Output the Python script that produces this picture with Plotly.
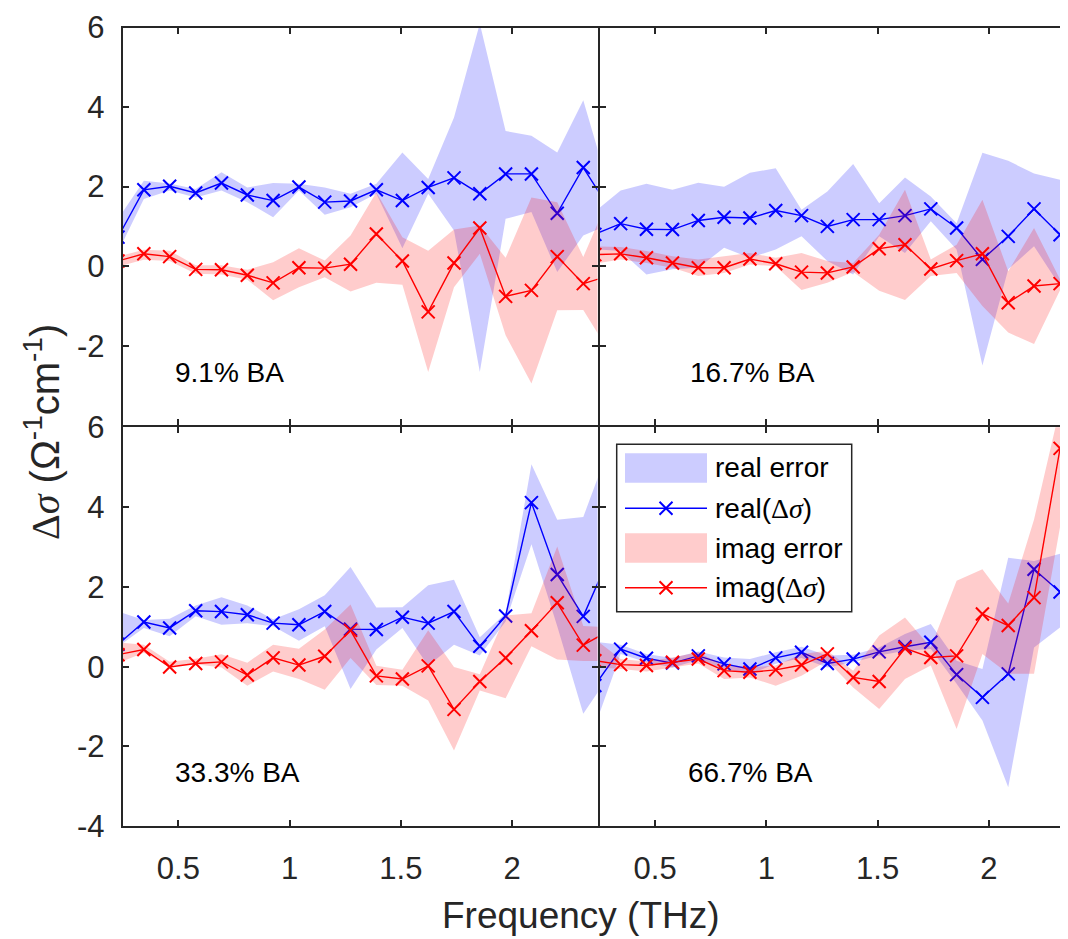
import plotly.graph_objects as go

# ---------------- data ----------------
freq = [0.229, 0.345, 0.461, 0.578, 0.694, 0.810, 0.926, 1.042, 1.158, 1.274,
        1.390, 1.507, 1.623, 1.739, 1.855, 1.971, 2.087, 2.203, 2.320, 2.436]

panel_labels = ["9.1% BA", "16.7% BA", "33.3% BA", "66.7% BA"]

real1 = [0.73, 1.92, 2.01, 1.84, 2.09, 1.79, 1.65, 1.99, 1.61, 1.64, 1.92, 1.65, 1.98, 2.22, 1.82, 2.32, 2.32, 1.33, 2.48, 1.46]
real1_hi = [1.19, 2.15, 2.08, 1.94, 2.36, 1.98, 2.09, 2.07, 1.98, 1.82, 2.07, 2.86, 2.19, 3.74, 6.10, 3.40, 3.28, 2.86, 4.17, 1.96]
real1_lo = [0.36, 1.69, 1.90, 1.73, 1.90, 1.61, 1.23, 1.90, 1.29, 1.48, 1.82, 0.45, 1.82, 0.90, -2.66, 1.19, 1.36, -0.15, 0.77, 1.05]
imag1 = [0.13, 0.31, 0.24, -0.08, -0.09, -0.23, -0.42, -0.04, -0.05, 0.05, 0.81, 0.13, -1.15, 0.08, 0.96, -0.76, -0.61, 0.24, -0.44, -0.24]
imag1_hi = [0.24, 0.41, 0.39, 0.02, 0.02, -0.09, 0.10, 0.45, 0.14, 0.77, 1.86, 0.73, 0.39, 0.92, 1.02, 0.21, 1.73, 1.61, 0.23, 1.74]
imag1_lo = [-0.01, 0.16, 0.13, -0.19, -0.21, -0.34, -0.86, -0.53, -0.28, -0.64, -0.42, -0.47, -2.66, -0.53, 0.31, -1.74, -2.95, -1.11, -1.10, -2.15]

real2 = [0.80, 1.07, 0.93, 0.92, 1.15, 1.23, 1.21, 1.40, 1.27, 1.00, 1.17, 1.17, 1.27, 1.44, 0.96, 0.17, 0.75, 1.44, 0.79, 3.28]
real2_hi = [1.37, 1.90, 2.07, 1.92, 2.10, 2.00, 2.35, 2.46, 1.42, 1.88, 2.57, 1.58, 2.23, 1.75, 1.08, 2.85, 2.65, 2.33, 2.17, 7.60]
real2_lo = [0.43, 0.38, -0.21, -0.08, -0.04, 0.46, 0.21, 0.42, 0.75, 0.13, -0.21, 0.75, 0.33, 1.13, 0.42, -2.50, -0.08, 0.50, -0.50, -0.30]
imag2 = [0.29, 0.31, 0.21, 0.08, -0.04, -0.04, 0.18, 0.06, -0.15, -0.17, -0.02, 0.44, 0.54, -0.07, 0.14, 0.31, -0.92, -0.50, -0.44, -0.93]
imag2_hi = [0.50, 0.48, 0.38, 0.25, 0.17, 0.25, 0.33, 0.21, 0.33, 0.13, 0.08, 0.79, 1.92, 0.17, 0.54, 1.67, -0.13, 0.96, -0.33, 3.30]
imag2_lo = [0.06, 0.17, 0.08, -0.04, -0.25, -0.17, 0.04, 0.00, -0.60, -0.42, -0.15, -0.62, -0.85, -0.25, -0.17, -1.00, -1.67, -1.96, -0.60, -5.50]

real3 = [0.56, 1.12, 0.97, 1.40, 1.38, 1.30, 1.09, 1.05, 1.38, 0.94, 0.93, 1.24, 1.09, 1.38, 0.51, 1.27, 4.11, 2.31, 1.26, 2.75]
real3_hi = [1.38, 1.17, 1.20, 1.53, 1.74, 1.53, 1.19, 1.44, 1.79, 2.50, 1.48, 1.49, 2.04, 2.18, 0.74, 1.34, 5.07, 3.68, 3.75, 5.50]
real3_lo = [0.50, 0.97, 0.76, 1.26, 1.05, 1.09, 1.01, 0.65, 1.01, -0.56, 0.43, 0.97, 0.02, 0.55, 0.28, 1.13, 3.07, 1.01, -1.18, -0.23]
imag3 = [0.30, 0.43, -0.01, 0.08, 0.12, -0.21, 0.22, 0.04, 0.26, 0.91, -0.23, -0.31, 0.02, -1.07, -0.37, 0.22, 0.90, 1.60, 0.54, 0.90]
imag3_hi = [0.61, 0.55, 0.12, 0.20, 0.31, 0.10, 0.55, 0.45, 0.93, 1.56, 0.02, -0.08, 0.91, -0.01, -0.19, 1.28, 1.34, 3.01, 1.02, 0.99]
imag3_lo = [0.09, 0.35, 0.02, 0.06, -0.02, -0.48, -0.12, -0.31, -0.58, 0.22, -0.46, -0.48, -0.85, -2.10, -0.60, -0.79, 0.51, 0.18, 0.14, 0.14]

real4 = [-0.47, 0.44, 0.21, 0.09, 0.27, 0.07, -0.06, 0.22, 0.36, 0.08, 0.19, 0.37, 0.50, 0.61, -0.20, -0.77, -0.18, 2.44, 1.87, -0.08]
real4_hi = [0.62, 0.55, 0.32, 0.22, 0.38, 0.23, 0.19, 0.36, 0.50, 0.28, 0.30, 0.48, 0.82, 1.07, 0.15, -0.06, 2.73, 2.65, 2.83, -1.50]
real4_lo = [-1.50, 0.32, 0.11, -0.02, 0.17, -0.06, -0.18, 0.07, 0.22, -0.02, 0.11, 0.28, 0.40, 0.44, -0.43, -1.35, -3.02, 0.48, 0.98, -1.26]
imag4 = [0.15, 0.05, 0.03, 0.11, 0.19, -0.10, -0.14, -0.08, 0.04, 0.32, -0.27, -0.37, 0.46, 0.23, 0.27, 1.32, 1.03, 1.73, 5.47, 2.10]
imag4_hi = [0.69, 0.19, 0.13, 0.23, 0.36, 0.03, -0.02, 0.03, 0.32, 0.40, -0.10, 0.78, 1.23, 0.48, 2.15, 2.44, 1.58, 3.69, 6.50, 6.50]
imag4_lo = [-0.01, -0.06, -0.12, -0.02, 0.08, -0.31, -0.27, -0.48, -0.23, 0.15, -0.52, -1.06, -0.31, 0.03, -1.56, 0.32, -0.18, -0.18, 3.50, -5.10]

x_ticks = [0.5, 1, 1.5, 2]
x_ticktext = ["0.5", "1", "1.5", "2"]
y_ticks_top = [-2, 0, 2, 4, 6]
y_ticks_bottom = [-4, -2, 0, 2, 4, 6]

legend_names = ["real error", "real(Δ<i>σ</i>)", "imag error", "imag(Δ<i>σ</i>)"]

# ---------------- styling / layout ----------------
# The page body has an 8 px margin, so the figure is drawn 8 px smaller and
# all target pixel positions (page coordinates) are shifted by OFF.
PAGE_W, PAGE_H = 1068, 939
OFF = 8
W, H = PAGE_W - OFF, PAGE_H - OFF
FONT = "Liberation Sans, Arial, Helvetica, sans-serif"
SERIF = "Liberation Serif, Times New Roman, serif"
AX = "#262626"
BLUE = "#0000FF"
RED = "#FF0000"
BLUE_FILL = "rgba(0,0,255,0.2)"
RED_FILL = "rgba(255,0,0,0.2)"
LW = 2.0  # axis line width; plotly draws lines LW/2 outside the plot area
MK = dict(symbol="x-thin", size=13)
MK_W = 2.0
LINE_W = 1.4

# plot-area edges in page pixels (inner edges, lines sit LW/2 outside)
LEFT = (122.7, 597.5)
RIGHT = (599.5, 1068.0)
TOP = (27.6, 425.2)
BOT = (427.2, 826.3)
PX_PER_UNIT = 222.5
X0 = 0.25


def px_x(v):
    return (v - OFF) / W


def px_y(v):
    return 1 - (v - OFF) / H


def xdom(px):
    return [px_x(px[0]), min(1.0, px_x(px[1]))]


def ydom(py):
    return [px_y(py[1]), px_y(py[0])]


def xrange_for(px):
    return [X0, X0 + (px[1] - px[0]) / PX_PER_UNIT]


panels = [
    dict(real=real1, rhi=real1_hi, rlo=real1_lo, imag=imag1, ihi=imag1_hi, ilo=imag1_lo,
         xs=LEFT, ys=TOP, xl=False, yl=True, yt=y_ticks_top),
    dict(real=real2, rhi=real2_hi, rlo=real2_lo, imag=imag2, ihi=imag2_hi, ilo=imag2_lo,
         xs=RIGHT, ys=TOP, xl=False, yl=False, yt=y_ticks_top),
    dict(real=real3, rhi=real3_hi, rlo=real3_lo, imag=imag3, ihi=imag3_hi, ilo=imag3_lo,
         xs=LEFT, ys=BOT, xl=True, yl=True, yt=y_ticks_bottom),
    dict(real=real4, rhi=real4_hi, rlo=real4_lo, imag=imag4, ihi=imag4_hi, ilo=imag4_lo,
         xs=RIGHT, ys=BOT, xl=True, yl=False, yt=y_ticks_bottom),
]

fig = go.Figure()
layout = {}

for i, p in enumerate(panels, start=1):
    xa = "x" if i == 1 else f"x{i}"
    ya = "y" if i == 1 else f"y{i}"
    band_x = freq + freq[::-1]
    fig.add_trace(go.Scatter(x=band_x, y=p["rhi"] + p["rlo"][::-1], fill="toself",
                             fillcolor=BLUE_FILL, mode="lines", line=dict(width=0),
                             hoverinfo="skip", showlegend=False, xaxis=xa, yaxis=ya))
    fig.add_trace(go.Scatter(x=freq, y=p["real"], mode="lines+markers",
                             line=dict(color=BLUE, width=LINE_W),
                             marker=dict(**MK, line=dict(width=MK_W, color=BLUE)),
                             showlegend=False, xaxis=xa, yaxis=ya))
    fig.add_trace(go.Scatter(x=band_x, y=p["ihi"] + p["ilo"][::-1], fill="toself",
                             fillcolor=RED_FILL, mode="lines", line=dict(width=0),
                             hoverinfo="skip", showlegend=False, xaxis=xa, yaxis=ya))
    fig.add_trace(go.Scatter(x=freq, y=p["imag"], mode="lines+markers",
                             line=dict(color=RED, width=LINE_W),
                             marker=dict(**MK, line=dict(width=MK_W, color=RED)),
                             showlegend=False, xaxis=xa, yaxis=ya))

    key = "" if i == 1 else str(i)
    layout["xaxis" + key] = dict(
        domain=xdom(p["xs"]), range=xrange_for(p["xs"]), anchor=ya, automargin=False,
        tickvals=x_ticks, ticktext=x_ticktext, showticklabels=p["xl"],
        ticks="inside", ticklen=6, tickwidth=1.5, tickcolor=AX,
        showline=True, linecolor=AX, linewidth=LW, mirror="ticks",
        showgrid=False, zeroline=False, ticklabelstandoff=13,
        tickfont=dict(family=FONT, size=31, color=AX))
    layout["yaxis" + key] = dict(
        domain=ydom(p["ys"]), range=[-4, 6], anchor=xa, automargin=False,
        tickvals=p["yt"], ticktext=[str(v) for v in p["yt"]], showticklabels=p["yl"],
        ticks="inside", ticklen=6, tickwidth=1.5, tickcolor=AX,
        showline=True, linecolor=AX, linewidth=LW, mirror="ticks" if p["xs"] == LEFT else False,
        showgrid=False, zeroline=False, ticklabelstandoff=10,
        tickfont=dict(family=FONT, size=31, color=AX))

# ---------------- legend box (drawn manually to match the reference key sizes) ----------------
LEG = (616.7, 851.7, 444.3, 611.7)  # left, right, top, bottom in page px
layout["xaxis5"] = dict(domain=[px_x(LEG[0]), px_x(LEG[1])], range=[LEG[0], LEG[1]], anchor="y5",
                        visible=False, fixedrange=True, automargin=False)
layout["yaxis5"] = dict(domain=[px_y(LEG[3]), px_y(LEG[2])], range=[LEG[3], LEG[2]], anchor="x5",
                        visible=False, fixedrange=True, automargin=False)

shapes = [dict(type="rect", xref="paper", yref="paper", x0=px_x(LEG[0]), x1=px_x(LEG[1]),
               y0=px_y(LEG[3]), y1=px_y(LEG[2]),
               fillcolor="white", line=dict(color=AX, width=1.5), layer="below")]
key_x0, key_x1 = 625.0, 707.0
key_mid = (key_x0 + key_x1) / 2
row_y = [468.0, 508.3, 548.0, 587.7]
entry_style = [("patch", BLUE_FILL), ("line", BLUE), ("patch", RED_FILL), ("line", RED)]
annotations = []
for (kind, col), yy, name in zip(entry_style, row_y, legend_names):
    if kind == "patch":
        shapes.append(dict(type="rect", xref="paper", yref="paper", x0=px_x(key_x0), x1=px_x(key_x1),
                           y0=px_y(yy + 14.7), y1=px_y(yy - 14.7), fillcolor=col, line=dict(width=0),
                           layer="above"))
    else:
        shapes.append(dict(type="line", xref="paper", yref="paper", x0=px_x(key_x0), x1=px_x(key_x1),
                           y0=px_y(yy), y1=px_y(yy), line=dict(color=col, width=LINE_W), layer="above"))
        fig.add_trace(go.Scatter(x=[key_mid], y=[yy], mode="markers", xaxis="x5", yaxis="y5",
                                 marker=dict(**MK, line=dict(width=MK_W, color=col)),
                                 showlegend=False, hoverinfo="skip"))
    label = name.replace("Δ<i>σ</i>", f"<span style='font-family:{SERIF}'>Δ<i>σ</i></span>")
    annotations.append(dict(xref="paper", yref="paper", x=px_x(713.3), y=px_y(yy), text=label,
                            showarrow=False, xanchor="left", yanchor="middle",
                            font=dict(family=FONT, size=28, color="black")))

# ---------------- panel labels ----------------
label_px = [(172.7, 372.7), (687.7, 372.7), (172.7, 772.7), (686.0, 772.7)]
for text, (lx, ly) in zip(panel_labels, label_px):
    annotations.append(dict(xref="paper", yref="paper", x=px_x(lx), y=px_y(ly), text=text,
                            showarrow=False, xanchor="left", yanchor="middle",
                            font=dict(family=FONT, size=28, color="black")))

# ---------------- axis titles ----------------
annotations.append(dict(xref="paper", yref="paper", x=px_x(581), y=px_y(915),
                        text="Frequency (THz)", showarrow=False, xanchor="center", yanchor="middle",
                        font=dict(family=FONT, size=37, color=AX)))
annotations.append(dict(xref="paper", yref="paper", x=px_x(42), y=px_y(432),
                        text=f"<span style='font-family:{SERIF}'>Δ<i>σ</i></span> (Ω<sup>-1</sup>cm<sup>-1</sup>)",
                        showarrow=False, textangle=-90, xanchor="center", yanchor="middle",
                        font=dict(family=FONT, size=40, color=AX)))

fig.update_layout(width=W, height=H, margin=dict(l=0, r=0, t=0, b=0, autoexpand=False),
                  paper_bgcolor="white", plot_bgcolor="rgba(0,0,0,0)",
                  showlegend=False, shapes=shapes, annotations=annotations, **layout)

fig.write_html("out.html")
